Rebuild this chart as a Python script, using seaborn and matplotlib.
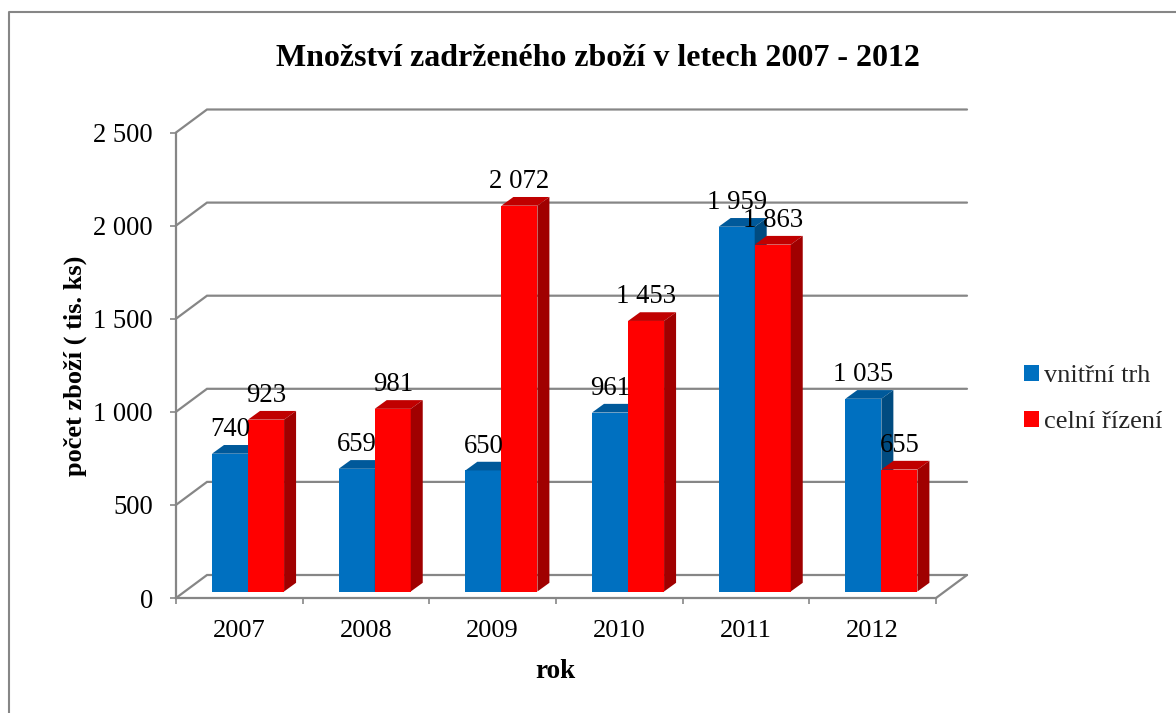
import numpy as np
import pandas as pd
import seaborn as sns
import matplotlib
matplotlib.use('Agg')
import matplotlib.pyplot as plt
from matplotlib.lines import Line2D
from matplotlib.patches import Polygon

years = ['2007', '2008', '2009', '2010', '2011', '2012']
vnitrni_trh = [740, 659, 650, 961, 1959, 1035]
celni_rizeni = [923, 981, 2072, 1453, 1863, 655]
y_ticks = [0, 500, 1000, 1500, 2000, 2500]

W, H = 1176, 713
GREY = '#868686'
FONT = 'Liberation Serif'


def fmt(v):
    return f'{v:,}'.replace(',', ' ')


sns.set_theme(style='white')
plt.rcParams['font.family'] = [FONT, 'DejaVu Sans']

df = pd.DataFrame({
    'rok': years * 2,
    'pocet': vnitrni_trh + celni_rizeni,
    'trh': ['vnitřní trh'] * 6 + ['celní řízení'] * 6,
})

fig = plt.figure(figsize=(W / 100, H / 100), dpi=100)
ax = fig.add_axes([176 / W, 1 - 598 / H, 760 / W, 465.5 / H])
sns.barplot(data=df, x='rok', y='pocet', hue='trh', ax=ax, width=0.569, gap=0,
            palette=['#0070C0', '#FF0000'], saturation=1, legend=False,
            errorbar=None, zorder=3, linewidth=0, edgecolor='none')
ax.set_xlim(-0.5, 5.5)
ax.set_ylim(0, 2500)

# pixels -> data units
px_x = 6 / 760
px_y = 2500 / 465.5
wall_dx, wall_dy = 31 * px_x, 23 * px_y
bar_x, bar_y = 8.7 * px_x, 6.5 * px_y
side_dx, side_dy = 12 * px_x, 8.7 * px_y

# back wall grid
for t in y_ticks:
    ax.plot([-0.5, -0.5 + wall_dx, 5.5 + wall_dx], [t, t + wall_dy, t + wall_dy],
            color=GREY, lw=1.6, clip_on=False, zorder=1, solid_joinstyle='miter')
ax.plot([5.5, 5.5 + wall_dx], [0, wall_dy], color=GREY, lw=1.6, clip_on=False, zorder=1)

# fake 3d bars
shades = [('#00599A', '#004B80'), ('#C00000', '#A00000')]
for i, cont in enumerate(ax.containers):
    top_c, side_c = shades[i]
    for p in cont.patches:
        p.set_x(p.get_x() + bar_x)
        p.set_y(bar_y)
        p.set_clip_on(False)
        p.set_zorder(3 + i)
        x0, x1 = p.get_x(), p.get_x() + p.get_width()
        y0, y1 = bar_y, bar_y + p.get_height()
        ax.add_patch(Polygon([(x0, y1), (x1, y1), (x1 + side_dx, y1 + side_dy),
                              (x0 + side_dx, y1 + side_dy)], fc=top_c, ec='none',
                             clip_on=False, zorder=3 + i))
        ax.add_patch(Polygon([(x1, y0), (x1 + side_dx, y0 + side_dy),
                              (x1 + side_dx, y1 + side_dy), (x1, y1)], fc=side_c, ec='none',
                             clip_on=False, zorder=3 + i))
        ax.annotate(fmt(int(p.get_height())), (p.get_x() + p.get_width() / 2, y1),
                    xytext=(0, 17.5), textcoords='offset points', ha='center', va='center',
                    fontsize=19.3, color='black', zorder=6, annotation_clip=False)

for s in ['top', 'right']:
    ax.spines[s].set_visible(False)
for s in ['left', 'bottom']:
    ax.spines[s].set_color(GREY)
    ax.spines[s].set_linewidth(1.6)
    ax.spines[s].set_zorder(2)

ax.set_yticks(y_ticks)
ax.set_yticklabels([fmt(t) for t in y_ticks], fontsize=19.2, color='black')
ax.set_xticks(np.arange(-0.5, 6, 1))
ax.set_xticklabels([])
ax.set_xticks(range(6), years, minor=True, fontsize=19, color='black')
ax.tick_params(axis='both', which='major', length=4.5, width=1.2, color=GREY, left=True, bottom=True)
ax.tick_params(axis='y', pad=12)
ax.tick_params(axis='x', which='minor', length=0, pad=15.5)
ax.set_xlabel('')
ax.set_ylabel('')

fig.text(598 / W, 1 - 58 / H, 'Množství zadrženého zboží v letech 2007 - 2012',
         ha='center', va='center', fontsize=23, fontweight='bold', color='black')
fig.text(75 / W, 1 - 366 / H, 'počet zboží ( tis. ks)', rotation=90, ha='center', va='center',
         fontsize=19, fontweight='bold', color='black')
fig.text(555 / W, 1 - 672 / H, 'rok', ha='center', va='center', fontsize=19.5,
         fontweight='bold', color='black')

handles = [ax.containers[0].patches[0], ax.containers[1].patches[0]]
fig.legend(handles, ['vnitřní trh', 'celní řízení'], loc='upper left',
           bbox_to_anchor=(1024 / W, 1 - 365 / H), frameon=False, fontsize=19,
           handlelength=0.55, handleheight=0.55, handletextpad=0.2, labelspacing=0.9,
           borderpad=0, borderaxespad=0)

# chart frame
fig.add_artist(Line2D([9 / W, 9 / W, 1], [0, 1 - 12 / H, 1 - 12 / H], color=GREY, lw=1.5))

fig.savefig('out.png', dpi=100)
